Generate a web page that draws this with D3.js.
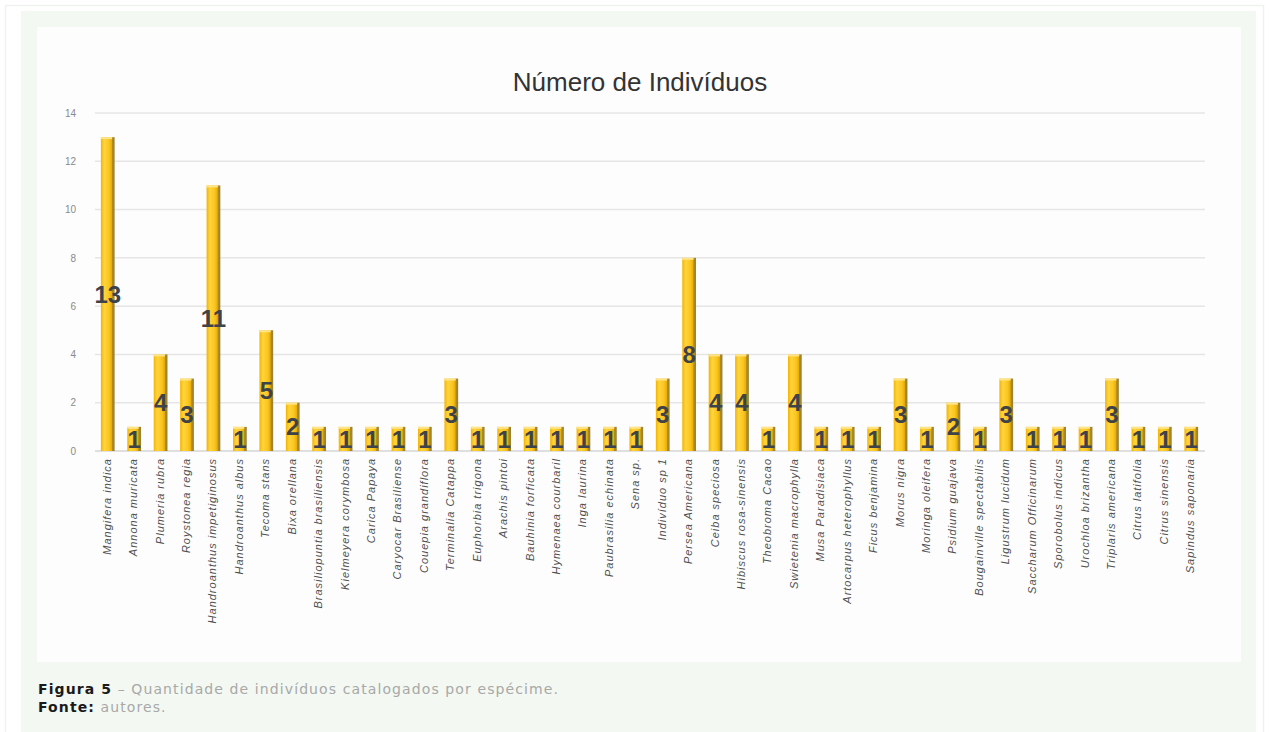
<!DOCTYPE html>
<html>
<head>
<meta charset="utf-8">
<script src="https://cdn.jsdelivr.net/npm/d3@7"></script>
<style>
  html, body { margin: 0; padding: 0; background: #ffffff; }
  svg { display: block; }
</style>
</head>
<body>
<svg id="chart" width="1271" height="732"></svg>
<script>
// Species catalogued and number of individuals per species
const species = [
  "Mangifera indica", "Annona muricata", "Plumeria rubra", "Roystonea regia",
  "Handroanthus impetiginosus", "Handroanthus albus", "Tecoma stans", "Bixa orellana",
  "Brasiliopuntia brasiliensis", "Kielmeyera corymbosa", "Carica Papaya", "Caryocar Brasiliense",
  "Couepia grandiflora", "Terminalia Catappa", "Euphorbia trigona", "Arachis pintoi",
  "Bauhinia forficata", "Hymenaea courbaril", "Inga laurina", "Paubrasilia echinata",
  "Sena sp.", "Indivíduo sp 1", "Persea Americana", "Ceiba speciosa",
  "Hibiscus rosa-sinensis", "Theobroma Cacao", "Swietenia macrophylla", "Musa Paradisiaca",
  "Artocarpus heterophyllus", "Ficus benjamina", "Morus nigra", "Moringa oleifera",
  "Psidium guajava", "Bougainville spectabilis", "Ligustrum lucidum", "Saccharum Officinarum",
  "Sporobolus indicus", "Urochloa brizantha", "Triplaris americana", "Citrus latifolia",
  "Citrus sinensis", "Sapindus saponaria"
];
const counts = [
  13, 1, 4, 3,
  11, 1, 5, 2,
  1, 1, 1, 1,
  1, 3, 1, 1,
  1, 1, 1, 1,
  1, 3, 8, 4,
  4, 1, 4, 1,
  1, 1, 3, 1,
  2, 1, 3, 1,
  1, 1, 3, 1,
  1, 1
];
const yTicks = [0, 2, 4, 6, 8, 10, 12, 14];
const chartTitle = "Número de Indivíduos";

const data = species.map((s, i) => ({ name: s, value: counts[i] }));
const svg = d3.select("#chart");

// page frame, green panel and white chart area
svg.append("rect").attr("x", 5.5).attr("y", 5.5).attr("width", 1258).attr("height", 740)
  .attr("fill", "#ffffff").attr("stroke", "#eef3ee").attr("stroke-width", 1.5);
svg.append("rect").attr("x", 21).attr("y", 11).attr("width", 1235).attr("height", 730)
  .attr("fill", "#f3f8f2");
svg.append("rect").attr("x", 37).attr("y", 27).attr("width", 1204).attr("height", 635)
  .attr("fill", "#fdfdfd");

// bar gradient (cylinder-like golden bars)
const defs = svg.append("defs");
const grad = defs.append("linearGradient").attr("id", "barGrad")
  .attr("x1", "0%").attr("x2", "100%").attr("y1", "0%").attr("y2", "0%");
[
  ["0%", "#f2b400"], ["25%", "#ffd43e"], ["60%", "#fac51e"],
  ["78%", "#eaae08"], ["84%", "#b08a1c"], ["100%", "#94803e"]
].forEach(([o, c]) => grad.append("stop").attr("offset", o).attr("stop-color", c));

const x = d3.scaleBand().domain(species).range([94, 1205]).paddingInner(0.48).paddingOuter(0.26);
const y = d3.scaleLinear().domain([0, 14]).range([451, 113]);

// gridlines
const grid = svg.append("g");
grid.selectAll("line").data(yTicks.filter(t => t > 0)).join("line")
  .attr("x1", 95).attr("x2", 1205)
  .attr("y1", d => y(d)).attr("y2", d => y(d))
  .attr("stroke", "#e6e6e6").attr("stroke-width", 1.5);

// y axis labels
const yAxis = d3.axisLeft(y).tickValues(yTicks).tickSize(0).tickPadding(0);
const yg = svg.append("g").attr("transform", "translate(76,0)").call(yAxis);
yg.select(".domain").remove();
yg.selectAll("text").attr("font-family", "'Liberation Sans', Arial, sans-serif")
  .attr("font-size", 10).attr("fill", "#8a8a8a");

// baseline
svg.append("line").attr("x1", 95).attr("x2", 1205).attr("y1", y(0)).attr("y2", y(0))
  .attr("stroke", "#d4d4d4").attr("stroke-width", 1.5);

// bars
const bars = svg.append("g");
bars.selectAll("rect.bar").data(data).join("rect").attr("class", "bar")
  .attr("x", d => x(d.name)).attr("width", x.bandwidth())
  .attr("y", d => y(d.value)).attr("height", d => y(0) - y(d.value))
  .attr("fill", "url(#barGrad)");
// light top cap
bars.selectAll("rect.cap").data(data).join("rect").attr("class", "cap")
  .attr("x", d => x(d.name)).attr("width", x.bandwidth() * 0.82)
  .attr("y", d => y(d.value)).attr("height", 2)
  .attr("fill", "#ffe48a");

// value labels at the middle of each bar
svg.append("g").selectAll("text").data(data).join("text")
  .attr("x", d => x(d.name) + x.bandwidth() / 2)
  .attr("y", d => (y(d.value) + y(0)) / 2)
  .attr("dy", "0.36em")
  .attr("text-anchor", "middle")
  .attr("font-family", "'Liberation Sans', Arial, sans-serif")
  .attr("font-weight", "bold").attr("font-size", 24)
  .attr("fill", "#3e4349")
  .text(d => d.value);

// x axis category labels, rotated
const xAxis = d3.axisBottom(x).tickSize(0).tickPadding(0);
const xg = svg.append("g").attr("transform", `translate(0,${y(0)})`).call(xAxis);
xg.select(".domain").remove();
xg.selectAll("text")
  .attr("transform", "translate(3,7) rotate(-90)")
  .attr("dy", 0).attr("x", 0).attr("y", 0)
  .attr("text-anchor", "end")
  .attr("font-family", "'Liberation Sans', Arial, sans-serif")
  .attr("font-style", "italic").attr("font-size", 11)
  .attr("letter-spacing", "1px")
  .attr("fill", "#505050");

// title
svg.append("text").attr("x", 640).attr("y", 91).attr("text-anchor", "middle")
  .attr("font-family", "'Liberation Sans', Arial, sans-serif")
  .attr("font-size", 26).attr("fill", "#333333")
  .text(chartTitle);

// caption
const cap1 = svg.append("text").attr("x", 38).attr("y", 694)
  .attr("font-family", "'DejaVu Sans', sans-serif").attr("font-size", 14)
  .attr("letter-spacing", "1.1px");
cap1.append("tspan").attr("font-weight", "bold").attr("fill", "#1a1a1a").text("Figura 5");
cap1.append("tspan").attr("fill", "#a8a8a8")
  .text(" – Quantidade de indivíduos catalogados por espécime.");
const cap2 = svg.append("text").attr("x", 38).attr("y", 712)
  .attr("font-family", "'DejaVu Sans', sans-serif").attr("font-size", 14)
  .attr("letter-spacing", "1.1px");
cap2.append("tspan").attr("font-weight", "bold").attr("fill", "#1a1a1a").text("Fonte:");
cap2.append("tspan").attr("fill", "#a8a8a8").text(" autores.");
</script>
</body>
</html>
